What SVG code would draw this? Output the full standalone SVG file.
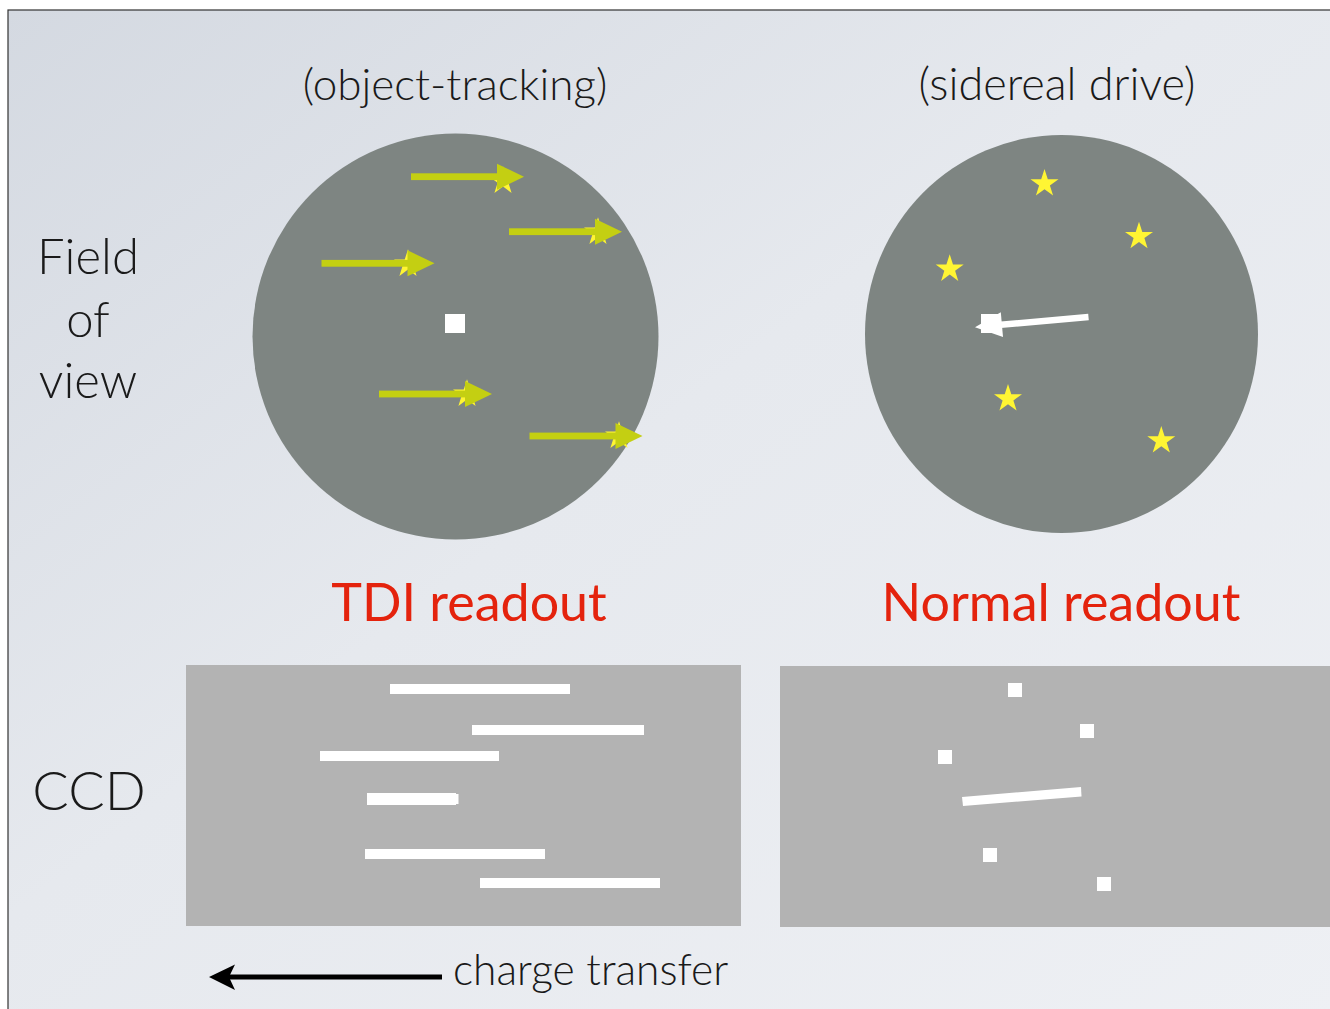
<svg xmlns="http://www.w3.org/2000/svg" width="1330" height="1009" viewBox="0 0 1330 1009">
<defs>
<linearGradient id="bg" x1="0" y1="0" x2="1" y2="1">
<stop offset="0" stop-color="#d4d9e1"/>
<stop offset="0.45" stop-color="#e6e9ee"/>
<stop offset="1" stop-color="#eef0f4"/>
</linearGradient>
<polygon id="star" points="0,-14.7 3.3,-4.5 14,-4.5 5.4,1.7 8.6,11.9 0,5.6 -8.6,11.9 -5.4,1.7 -14,-4.5 -3.3,-4.5"/>
<g id="yarrow">
<rect x="0" y="-3.4" width="90" height="6.8"/>
<polygon points="86,-13 113,0 86,13"/>
</g>
</defs>
<style>
.lbl{font-family:Lato,"Open Sans","Liberation Sans",sans-serif;font-weight:300;fill:#1a1a1a}
.red{font-family:Lato,"Open Sans","Liberation Sans",sans-serif;font-weight:400;fill:#e4230d;font-size:52px}
.fov{fill:#7e8582}
.ccd{fill:#b3b3b3}
.w{fill:#ffffff}
.st{fill:#fff533}
.ya{fill:#c4cf12}
</style>
<rect x="0" y="0" width="1330" height="1009" fill="#ffffff"/>
<rect x="8" y="10" width="1330" height="1010" fill="url(#bg)" stroke="#333" stroke-width="1.2"/>

<g id="label-object-tracking"><text class="lbl" x="455" y="100" font-size="44" text-anchor="middle">(object-tracking)</text></g>
<g id="label-sidereal-drive"><text class="lbl" x="1057" y="100" font-size="45" text-anchor="middle">(sidereal drive)</text></g>
<g id="label-fov"><text class="lbl" font-size="49" text-anchor="middle"><tspan x="88" y="274">Field</tspan><tspan x="88" y="337">of</tspan><tspan x="88" y="398">view</tspan></text></g>
<g id="label-ccd"><text class="lbl" x="89" y="810" font-size="54" text-anchor="middle">CCD</text></g>

<g id="fov-tracking">
<circle class="fov" cx="455.5" cy="336.5" r="203"/>
<rect class="w" x="445" y="314" width="20" height="19"/>
<use href="#star" class="st" x="503" y="181"/>
<use href="#yarrow" class="ya" x="411" y="176.7"/>
<use href="#star" class="st" x="598" y="232"/>
<use href="#yarrow" class="ya" x="509" y="231.7"/>
<use href="#star" class="st" x="408" y="264"/>
<use href="#yarrow" class="ya" x="321.5" y="263.3"/>
<use href="#star" class="st" x="467" y="394"/>
<use href="#yarrow" class="ya" x="379" y="394"/>
<use href="#star" class="st" x="619" y="436"/>
<use href="#yarrow" class="ya" x="529.5" y="436"/>
</g>

<g id="fov-sidereal">
<ellipse class="fov" cx="1061.5" cy="334" rx="196.5" ry="199"/>
<use href="#star" class="st" x="1044.5" y="183.7"/>
<use href="#star" class="st" x="1139" y="236.4"/>
<use href="#star" class="st" x="949.7" y="269"/>
<use href="#star" class="st" x="1008" y="398.7"/>
<use href="#star" class="st" x="1161.3" y="440.7"/>
<rect class="w" x="981" y="314" width="18" height="19"/>
<line x1="1088.5" y1="317" x2="995" y2="325.3" stroke="#fff" stroke-width="6.5"/>
<polygon class="w" points="975,327.3 1000.8,312.2 1003,337"/>
</g>

<g id="label-tdi"><text class="red" x="469" y="621" text-anchor="middle">TDI readout</text></g>
<g id="label-normal"><text class="red" x="1061" y="621" text-anchor="middle">Normal readout</text></g>

<g id="ccd-tdi">
<rect class="ccd" x="186" y="665" width="555" height="261"/>
<rect class="w" x="390" y="684" width="180" height="10"/>
<rect class="w" x="472" y="725" width="172" height="10"/>
<rect class="w" x="320" y="751" width="179" height="10"/>
<rect class="w" x="367" y="793" width="89" height="12"/>
<rect class="w" x="456" y="794" width="2.5" height="10"/>
<rect class="w" x="365" y="849" width="180" height="10"/>
<rect class="w" x="480" y="878" width="180" height="10"/>
</g>

<g id="ccd-normal">
<rect class="ccd" x="780" y="666" width="560" height="261"/>
<rect class="w" x="1008" y="683" width="14" height="14"/>
<rect class="w" x="1080" y="724" width="14" height="14"/>
<rect class="w" x="938" y="750" width="14" height="14"/>
<rect class="w" x="983" y="848" width="14" height="14"/>
<rect class="w" x="1097" y="877" width="14" height="14"/>
<polygon class="w" points="962,797 1081,787 1081.5,796.5 963,806"/>
</g>

<g id="connectors">
<line x1="442" y1="977" x2="225" y2="977" stroke="#000" stroke-width="5"/>
<polygon points="209,977 235,964.5 229,977 235,990" fill="#000"/>
</g>
<g id="label-charge"><text class="lbl" x="453" y="985" font-size="42.5">charge transfer</text></g>
</svg>
